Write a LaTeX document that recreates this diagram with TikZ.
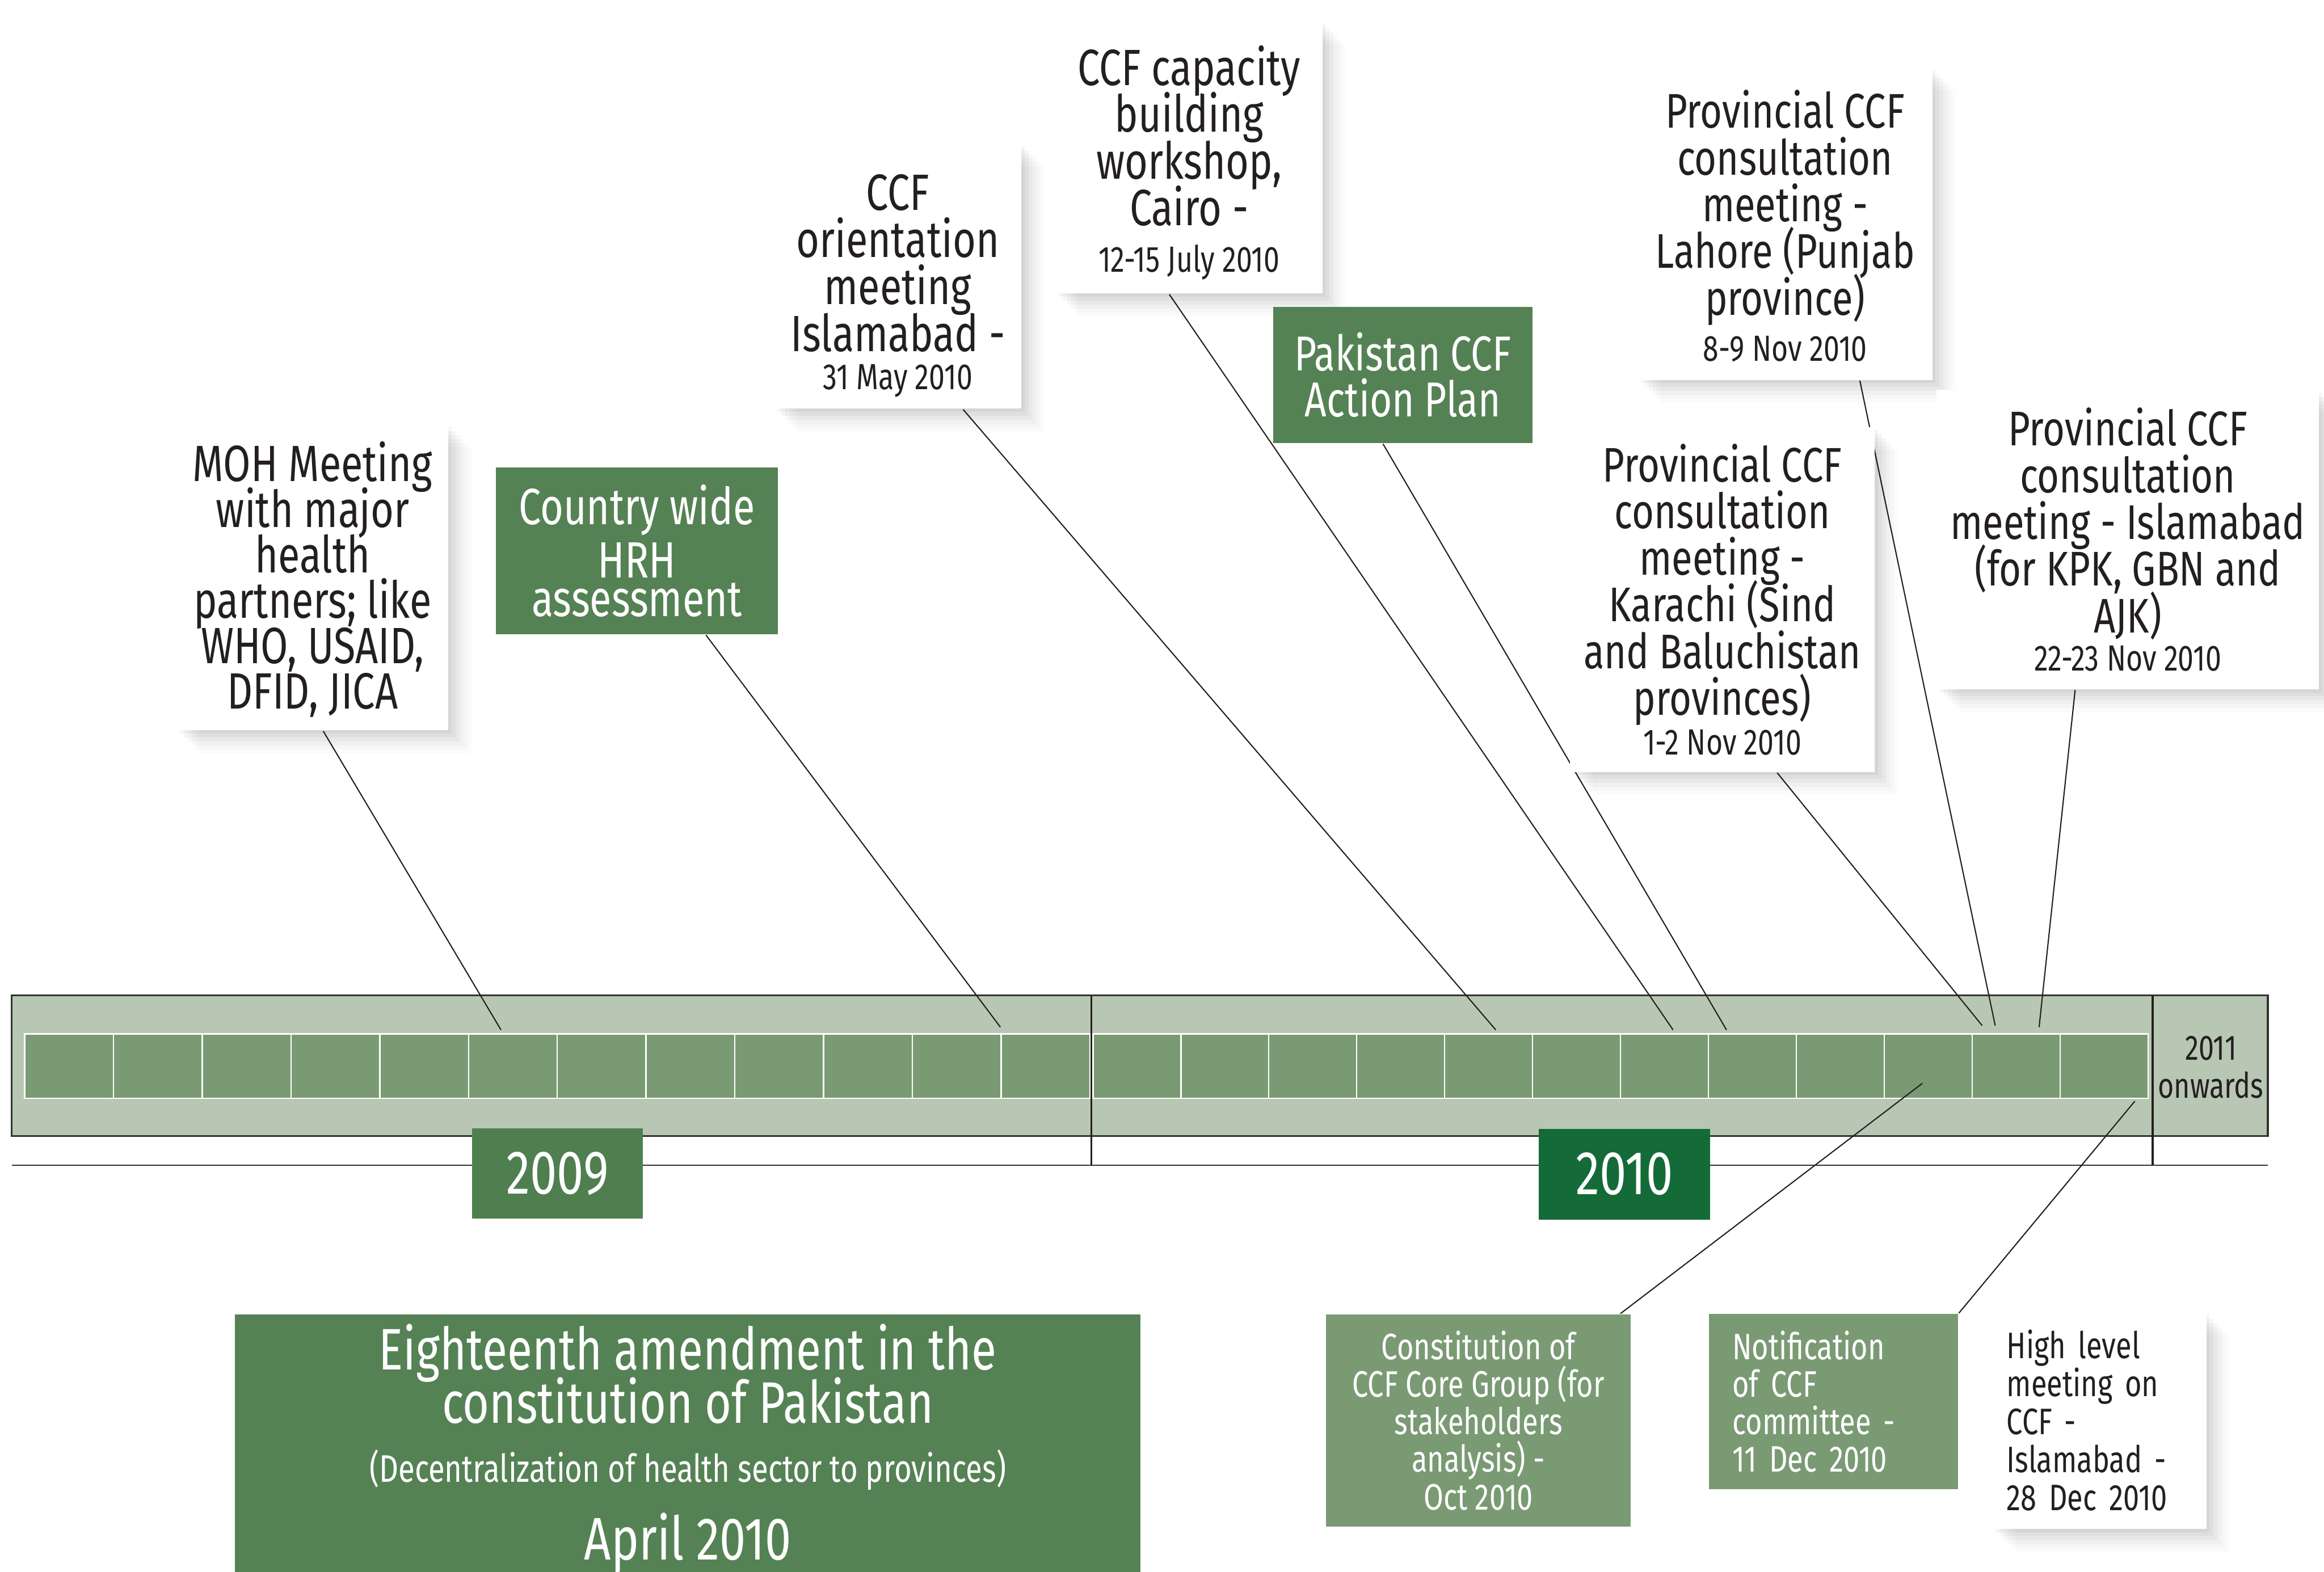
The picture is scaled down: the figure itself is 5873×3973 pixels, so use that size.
\documentclass[tikz,border=0pt]{standalone}
\usepackage{fontspec}
\setmainfont{Fira Sans}[FakeStretch=0.78]
\usetikzlibrary{shadows}
\definecolor{barlight}{HTML}{B8C7B3}
\definecolor{cellg}{HTML}{7A9A74}
\definecolor{boxg}{HTML}{558254}
\definecolor{yrnine}{HTML}{4F7F4F}
\definecolor{yrten}{HTML}{156B38}
\definecolor{ink}{HTML}{231F20}
\definecolor{rule}{HTML}{333333}
\newcommand\fsz[2]{\fontsize{#1}{#2}\selectfont\lineskiplimit=-50pt\lineskip=0pt}
\newcommand\fdate{\fsz{9.2}{9.2}}
% first line with a fixed height (text smashed)
\newcommand\firstln[2]{\smash{#2}\rule{0pt}{#1}}
\pgfdeclarelayer{barlayer}
\pgfdeclarelayer{connlayer}
\pgfsetlayers{barlayer,connlayer,main}
\begin{document}
\begin{tikzpicture}[x=0.1pt,y=-0.1pt,
  softshadow/.style={
    drop shadow={shadow xshift=0.8pt, shadow yshift=-0.8pt, opacity=0.04, fill=black},
    drop shadow={shadow xshift=1.8pt, shadow yshift=-1.8pt, opacity=0.035, fill=black},
    drop shadow={shadow xshift=2.8pt, shadow yshift=-2.8pt, opacity=0.03, fill=black},
    drop shadow={shadow xshift=3.8pt, shadow yshift=-3.8pt, opacity=0.025, fill=black},
    drop shadow={shadow xshift=4.8pt, shadow yshift=-4.8pt, opacity=0.02, fill=black},
    drop shadow={shadow xshift=5.8pt, shadow yshift=-5.8pt, opacity=0.015, fill=black}},
  wbox/.style={fill=white, inner sep=0pt, align=center, text=ink, softshadow},
  gbox/.style={fill=boxg, inner sep=0pt, align=center, text=white},
  cbox/.style={fill=cellg, inner sep=0pt, text=white},
  conn/.style={draw=ink, line width=0.3pt},
  cell/.style={fill=cellg, draw=white, line width=0.35pt},
  yearbox/.style={inner sep=0pt, text=white, font=\fsz{15.6}{15.6}}]
\useasboundingbox (0,0) rectangle (5873,3973);

\begin{pgfonlayer}{barlayer}
\fill[white] (0,0) rectangle (5873,3973);
% timeline bar
\draw[fill=barlight, draw=rule, line width=0.45pt] (30,2516) rectangle (5731,2871);
\draw[rule, line width=0.4pt] (30,2945) -- (5731,2945);
\draw[ink, line width=0.35pt] (2758,2516) -- (2758,2945);
\draw[ink, line width=0.55pt] (5440,2516) -- (5440,2945);
\foreach \i in {0,...,11} \draw[cell] ({62.5+\i*224.3},2613) rectangle ++(224.3,163);
\foreach \i in {0,...,11} \draw[cell] ({2762+\i*222.2},2613) rectangle ++(222.2,163);
\end{pgfonlayer}
\node[align=center, text=ink, inner sep=0pt, font=\fsz{8.9}{9.6}] (onwards) at (5587,2697) {2011\\onwards};

% end points on the bar
\coordinate (eMOH) at (1266,2603);
\coordinate (eHRH) at (2528,2596);
\coordinate (eOri) at (3780,2603);
\coordinate (eCai) at (4228,2603);
\coordinate (ePlan) at (4363,2603);
\coordinate (eLah) at (5042,2592);
\coordinate (eKar) at (5009,2592);
\coordinate (eIsb) at (5153,2596);
\coordinate (eCore) at (4858,2738);
\coordinate (eNotif) at (5395,2783);

% event boxes
\node[wbox, minimum width=68.6pt, minimum height=77.4pt, font=\fsz{12.9}{11.5}] (moh) at (790,1459)
    {\firstln{9.1pt}{MOH Meeting}\\with major\\health\\partners; like\\WHO, USAID,\\\smash{DFID, JICA}};
\node[gbox, minimum width=71.3pt, minimum height=42.2pt, font=\fsz{12.9}{13.5}] (hrh) at (1609.5,1392)
    {Country wide\\HRH\\[-3.8pt]assessment};
\node[wbox, minimum width=62.4pt, minimum height=67.1pt, font=\fsz{12.9}{11.9}] (orient) at (2269,697.5)
    {\firstln{12.1pt}{CCF}\\orientation\\meeting\\Islamabad -\\[-2.2pt]\smash{\fdate 31 May 2010}};
\node[wbox, minimum width=67.4pt, minimum height=68.8pt, font=\fsz{12.9}{11.8}] (cairo) at (3005,398)
    {\firstln{10.8pt}{CCF capacity}\\building\\workshop,\\Cairo -\\\smash{\fdate 12-15 July 2010}};
\node[gbox, minimum width=65.6pt, minimum height=34.5pt, font=\fsz{12.4}{11.6}] (plan) at (3545,947.5)
    {Pakistan CCF\\Action Plan};
\node[wbox, minimum width=74.4pt, minimum height=79pt, font=\fsz{12.3}{11.8}] (lahore) at (4511,565)
    {\firstln{10.6pt}{Provincial CCF}\\consultation\\meeting -\\Lahore (Punjab\\province)\\[-0.2pt]\smash{\fdate 8-9 Nov 2010}};
\node[wbox, minimum width=77.1pt, minimum height=87.2pt, font=\fsz{12.3}{11.8}] (karachi) at (4352.5,1515)
    {Provincial CCF\\consultation\\meeting -\\Karachi (Sind\\and Baluchistan\\provinces)\\[-1.8pt]{\fdate 1-2 Nov 2010}};
\node[wbox, minimum width=96.6pt, minimum height=75.7pt, font=\fsz{12.3}{11.8}] (isb) at (5377,1363.5)
    {Provincial CCF\\consultation\\meeting - Islamabad\\(for KPK, GBN and\\AJK)\\[-2.2pt]{\fdate 22-23 Nov 2010}};

% connectors, behind the boxes
\begin{pgfonlayer}{connlayer}
\draw[conn] ([xshift=2.7pt]moh.south) -- (eMOH);
\draw[conn] ([xshift=17.45pt]hrh.south) -- (eHRH);
\draw[conn] ([xshift=16.5pt]orient.south) -- (eOri);
\draw[conn] ([xshift=-5pt]cairo.south) -- (eCai);
\draw[conn] ([xshift=-5pt]plan.south) -- (ePlan);
\draw[conn] ([xshift=18.9pt]lahore.south) -- (eLah);
\draw[conn] ([xshift=13.85pt]karachi.south) -- (eKar);
\draw[conn] ([xshift=-13.3pt]isb.south) -- (eIsb);
\end{pgfonlayer}

% year boxes
\node[yearbox, fill=yrnine, minimum width=43.2pt, minimum height=22.8pt] (y2009) at (1409,2966) {2009};
\node[yearbox, fill=yrten, minimum width=43.2pt, minimum height=22.9pt] (y2010) at (4105,2967.5) {2010};

% bottom boxes
\node[gbox, minimum width=228.8pt, minimum height=65.1pt, font=\fsz{14.8}{13.4}] (amend) at (1738,3647.5)
  {\firstln{11pt}{Eighteenth amendment in the}\\constitution of Pakistan\\[1.5pt]{\fsz{9.7}{9.7}(Decentralization of health sector to provinces)}\\[6.3pt]\smash{\fsz{15.2}{14}April 2010}};
\node[cbox, align=center, minimum width=77pt, minimum height=53.6pt, font=\fsz{9.3}{9.5}] (core) at (3736,3590)
  {Constitution of\\CCF Core Group (for\\stakeholders\\analysis) -\\Oct 2010};
\node[cbox, align=left, inner xsep=5.9pt, text width=51.1pt, minimum height=44.3pt, font=\fsz{9.3}{9.5}] (notif) at (4633.5,3542.5)
  {Notification\\of CCF\\committee -\\11 Dec 2010};
\node[wbox, align=left, inner xsep=3.6pt, text width=46.9pt, minimum height=54.9pt, font=\fsz{9.3}{9.6}] (high) at (5305.5,3590)
  {High level\\meeting on\\CCF -\\Islamabad -\\28 Dec 2010};

\begin{pgfonlayer}{connlayer}
\draw[conn] ([xshift=35.9pt]core.north) -- (eCore);
\draw[conn] (notif.north east) -- (eNotif);
\end{pgfonlayer}
\end{tikzpicture}
\end{document}
